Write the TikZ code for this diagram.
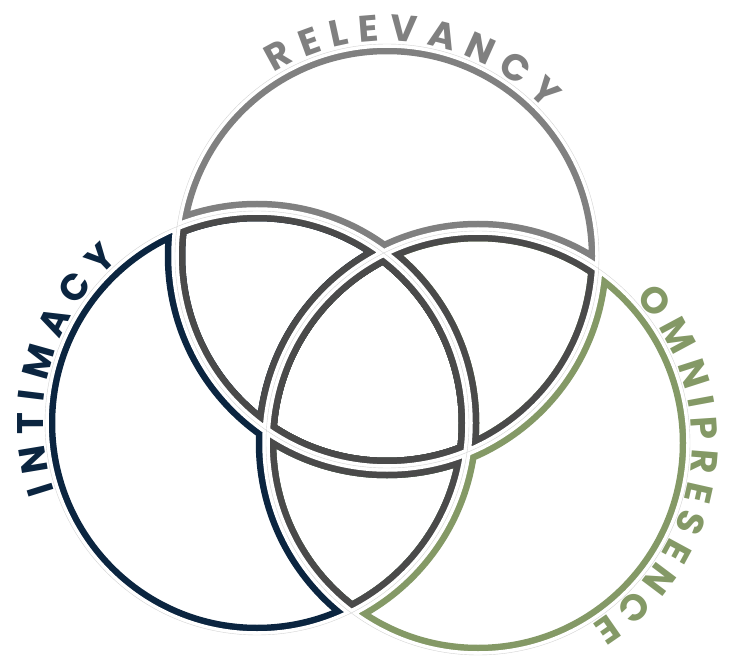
\documentclass[tikz,border=0pt]{standalone}
\usepackage{fontspec}
\newfontfamily\lblfont{Poppins}
\newcommand\lblsetfont{\lblfont\bfseries\fontsize{37}{44}\selectfont}
% #1 name prefix, #2 centre, #3 baseline radius, #4 middle angle, #5 tracking, #6 colour, #7 letters
\newcommand\arctext[7]{%
  \begingroup
  \lblsetfont
  \gdef\arctot{0}%
  \foreach \c in {#7} {\pgfmathsetmacro\lw{width("\c")}\pgfmathsetmacro\nx{\arctot+\lw+#5}\xdef\arctot{\nx}}%
  \pgfmathsetmacro\arcstart{#4+(\arctot-#5)/2/#3*180/pi}%
  \xdef\arcstartg{\arcstart}%
  \gdef\arccur{0}%
  \foreach \c [count=\i] in {#7} {%
    \pgfmathsetmacro\lw{width("\c")}%
    \pgfmathsetmacro\ang{\arcstartg-(\arccur+\lw/2)/#3*180/pi}%
    \node[letter,text=#6,rotate=\ang-90] (#1\i) at ([shift={(\ang:#3)}]#2) {\c};%
    \pgfmathsetmacro\nx{\arccur+\lw+#5}%
    \xdef\arccur{\nx}%
  }%
  \endgroup
}
\begin{document}
\begin{tikzpicture}[x=1pt,y=1pt]
\definecolor{cgray}{HTML}{808080}
\definecolor{cnavy}{HTML}{0B2540}
\definecolor{cgreen}{HTML}{849966}
\definecolor{cdark}{HTML}{4A4A4A}
\definecolor{chair}{HTML}{D4D4D4}
\def\rad{212}
\tikzset{
  band/.style={line width=20.5pt},
  gapline/.style={white,line width=7.5pt},
  hair/.style={chair,line width=0.4pt},
  letter/.style={font=\lblsetfont, anchor=base, inner sep=0pt}
}
\useasboundingbox (0,0) rectangle (736,657);
\coordinate (T) at (387,401);
\coordinate (L) at (257,234);
\coordinate (Rc) at (478,214);
% outer regions
\begin{scope}
  \clip (T) circle[radius=\rad];
  \draw[band,cgray] (T) circle[radius=\rad] (L) circle[radius=\rad] (Rc) circle[radius=\rad];
\end{scope}
\begin{scope}
  \clip (L) circle[radius=\rad];
  \draw[band,cnavy] (T) circle[radius=\rad] (L) circle[radius=\rad] (Rc) circle[radius=\rad];
\end{scope}
\begin{scope}
  \clip (Rc) circle[radius=\rad];
  \draw[band,cgreen] (T) circle[radius=\rad] (L) circle[radius=\rad] (Rc) circle[radius=\rad];
\end{scope}
% overlaps
\begin{scope}
  \clip (T) circle[radius=\rad];
  \clip (L) circle[radius=\rad];
  \draw[band,cdark] (T) circle[radius=\rad] (L) circle[radius=\rad] (Rc) circle[radius=\rad];
\end{scope}
\begin{scope}
  \clip (T) circle[radius=\rad];
  \clip (Rc) circle[radius=\rad];
  \draw[band,cdark] (T) circle[radius=\rad] (L) circle[radius=\rad] (Rc) circle[radius=\rad];
\end{scope}
\begin{scope}
  \clip (L) circle[radius=\rad];
  \clip (Rc) circle[radius=\rad];
  \draw[band,cdark] (T) circle[radius=\rad] (L) circle[radius=\rad] (Rc) circle[radius=\rad];
\end{scope}
% gaps and hairlines
\draw[gapline] (T) circle[radius=\rad] (L) circle[radius=\rad] (Rc) circle[radius=\rad];
\draw[hair] (T) circle[radius=\rad] (L) circle[radius=\rad] (Rc) circle[radius=\rad];
% labels
\arctext{rel}{T}{215}{82.2}{10}{cgray}{R,E,L,E,V,A,N,C,Y}
\arctext{int}{L}{214}{164.5}{10}{cnavy}{I,N,T,I,M,A,C,Y}
\arctext{omn}{Rc}{214}{-7.6}{8}{cgreen}{O,M,N,I,P,R,E,S,E,N,C,E}
\end{tikzpicture}
\end{document}
